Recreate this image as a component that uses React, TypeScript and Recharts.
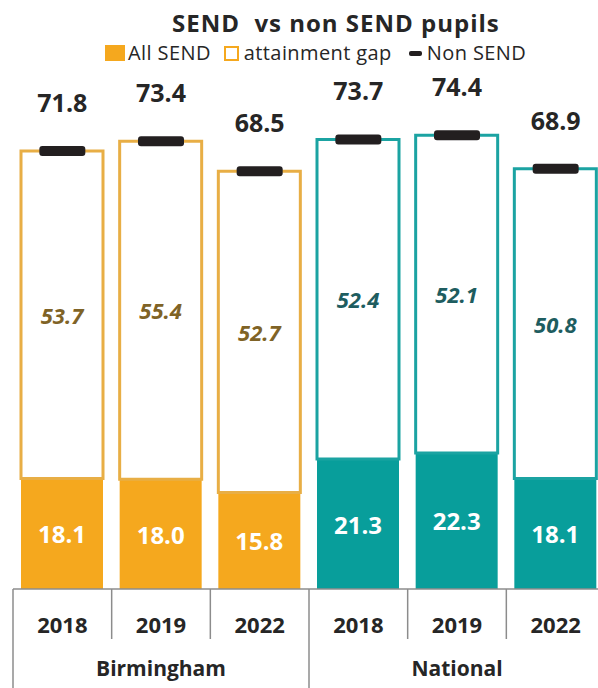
import React from 'react';
import { ComposedChart, Bar, Line, XAxis, YAxis, Cell, LabelList } from 'recharts';

const categories = ['2018', '2019', '2022', '2018', '2019', '2022'];
const groups = ['Birmingham', 'Birmingham', 'Birmingham', 'National', 'National', 'National'];
const allSend = [18.1, 18.0, 15.8, 21.3, 22.3, 18.1];
const attainmentGap = [53.7, 55.4, 52.7, 52.4, 52.1, 50.8];
const nonSend = [71.8, 73.4, 68.5, 73.7, 74.4, 68.9];

const ORANGE = '#F5A81E';
const ORANGE_LINE = '#E8AE45';
const TEAL = '#089E9B';
const TEAL_LINE = '#1BA3A2';
const GAP_TXT = { Birmingham: '#7F6326', National: '#1E5D60' } as Record<string, string>;
const FONT = '"Open Sans", sans-serif';
const DARK = '#262626';

const data = categories.map((c, i) => ({
  key: i,
  year: c,
  group: groups[i],
  send: allSend[i],
  gap: attainmentGap[i],
  nonSend: nonSend[i],
}));

const fillFor = (g: string) => (g === 'Birmingham' ? ORANGE : TEAL);
const lineFor = (g: string) => (g === 'Birmingham' ? ORANGE_LINE : TEAL_LINE);

const BAND = 592 / 6;

const XTick = (props: any) => {
  const { x, y, index } = props;
  const i = index ?? props.payload?.index ?? 0;
  const left = x - BAND / 2;
  const full = i % 3 === 0;
  return (
    <g>
      <line x1={left} x2={left} y1={y} y2={full ? y + 100 : y + 50} stroke="#8C8C8C" strokeWidth={1.5} />
      <text x={x} y={y + 35} textAnchor="middle" dominantBaseline="central" fontFamily={FONT} fontWeight={700} fontSize={22} fill={DARK}>
        {categories[i]}
      </text>
      {i % 3 === 1 && (
        <text x={x} y={y + 79} textAnchor="middle" dominantBaseline="central" fontFamily={FONT} fontWeight={700} fontSize={21} fill={DARK}>
          {groups[i]}
        </text>
      )}
    </g>
  );
};

const Marker = (props: any) => {
  const { cx, cy, index } = props;
  if (cx == null || cy == null) return <g key={index} />;
  return <rect key={index} x={cx - 23} y={cy - 5} width={46} height={10} rx={3} fill="#231F20" />;
};

const TopLabel = (props: any) => {
  const { x, y, index } = props;
  return (
    <text x={x} y={y - 49} textAnchor="middle" dominantBaseline="central" fontFamily={FONT} fontWeight={700} fontSize={25} fill={DARK}>
      {nonSend[index].toFixed(1)}
    </text>
  );
};

const SendLabel = (props: any) => {
  const { x, y, width, height, index } = props;
  return (
    <text x={x + width / 2} y={y + height / 2} textAnchor="middle" dominantBaseline="central" fontFamily={FONT} fontWeight={700} fontSize={24} fill="#FFFFFF">
      {allSend[index].toFixed(1)}
    </text>
  );
};

const GapLabel = (props: any) => {
  const { x, y, width, height, index } = props;
  return (
    <text x={x + width / 2} y={y + height / 2} textAnchor="middle" dominantBaseline="central" fontFamily={FONT} fontWeight={700} fontStyle="italic" fontSize={22} fill={GAP_TXT[groups[index]]}>
      {attainmentGap[index].toFixed(1)}
    </text>
  );
};

export default function App() {
  return (
    <div style={{ position: 'absolute', left: 0, top: 0, width: 598, height: 688, overflow: 'hidden', background: '#fff' }}>
      <div style={{ position: 'absolute', left: 172, top: 9, fontFamily: FONT, fontWeight: 700, fontSize: 24, letterSpacing: 1, color: DARK, whiteSpace: 'pre', lineHeight: '28px' }}>
        {'SEND  vs non SEND pupils'}
      </div>
      <div style={{ position: 'absolute', left: 105, top: 41, display: 'flex', alignItems: 'center', fontFamily: FONT, fontSize: 20, letterSpacing: 0.4, color: DARK, lineHeight: '24px', whiteSpace: 'pre' }}>
        <span style={{ display: 'inline-block', width: 20, height: 16, background: ORANGE, marginRight: 3 }} />
        <span>All SEND</span>
        <span style={{ display: 'inline-block', width: 11, height: 11, border: `2.5px solid ${ORANGE}`, marginLeft: 13, marginRight: 5 }} />
        <span>attainment gap</span>
        <span style={{ display: 'inline-block', width: 13, height: 5, borderRadius: 2, background: '#231F20', marginLeft: 17, marginRight: 5 }} />
        <span>Non SEND</span>
      </div>
      <ComposedChart width={610} height={688} data={data} margin={{ top: 101, right: 5, bottom: 0, left: 13 }} barCategoryGap={16}>
        <XAxis dataKey="key" height={99} axisLine={{ stroke: '#8C8C8C', strokeWidth: 1.5 }} tickLine={false} tickSize={0} tickMargin={0} tick={<XTick />} interval={0} />
        <YAxis hide domain={[0, 80]} />
        <Bar dataKey="send" stackId="a" barSize={82} isAnimationActive={false}>
          {data.map((d, i) => (
            <Cell key={i} fill={fillFor(d.group)} />
          ))}
          <LabelList content={<SendLabel />} />
        </Bar>
        <Bar dataKey="gap" stackId="a" barSize={82} isAnimationActive={false}>
          {data.map((d, i) => (
            <Cell key={i} fill="#FFFFFF" stroke={lineFor(d.group)} strokeWidth={3} />
          ))}
          <LabelList content={<GapLabel />} />
        </Bar>
        <Line dataKey="nonSend" stroke="none" dot={<Marker />} activeDot={false} isAnimationActive={false}>
          <LabelList content={<TopLabel />} />
        </Line>
      </ComposedChart>
    </div>
  );
}
